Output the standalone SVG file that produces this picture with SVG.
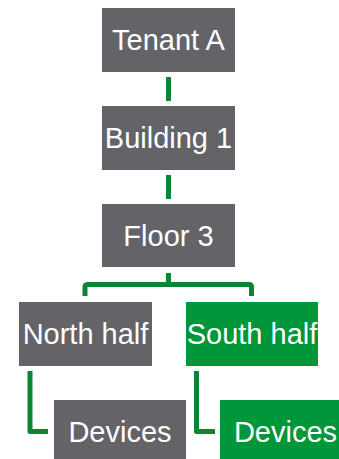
<svg xmlns="http://www.w3.org/2000/svg" width="339" height="459" viewBox="0 0 339 459">
<style>
.g{fill:#636368}
.s{fill:#00963a}
.t{font-family:"Liberation Sans",Arial,sans-serif;font-size:29px;fill:#ffffff;text-anchor:middle}
.c{fill:none;stroke:#0a8534;stroke-width:5;stroke-linejoin:round}
</style>
<rect width="339" height="459" fill="#ffffff"/>
<g id="connectors">
<line class="c" x1="168.5" y1="77" x2="168.5" y2="101"/>
<line class="c" x1="168.5" y1="175" x2="168.5" y2="199"/>
<line class="c" x1="168.5" y1="273" x2="168.5" y2="284"/>
<path class="c" d="M85 296 V287 Q85 284.5 88 284.5 H249 Q251.5 284.5 251.5 287 V296"/>
<path class="c" d="M30 371 V431.5 H48"/>
<path class="c" d="M196.5 371 V431.5 H215"/>
</g>
<g id="tenant"><rect class="g" x="102" y="8" width="133" height="64"/><text class="t" x="168.5" y="50">Tenant A</text></g>
<g id="building"><rect class="g" x="102" y="106" width="133" height="64"/><text class="t" x="168.5" y="148">Building 1</text></g>
<g id="floor"><rect class="g" x="102" y="204" width="133" height="63"/><text class="t" x="168.5" y="246">Floor 3</text></g>
<g id="north"><rect class="g" x="19" y="302" width="133" height="64"/><text class="t" x="85.5" y="344">North half</text></g>
<g id="south"><rect class="s" x="186" y="302" width="132" height="64"/><text class="t" x="252" y="344">South half</text></g>
<g id="devices-north"><rect class="g" x="54" y="400" width="132" height="64"/><text class="t" x="120" y="442">Devices</text></g>
<g id="devices-south"><rect class="s" x="220" y="400" width="132" height="64"/><text class="t" x="285.5" y="442">Devices</text></g>
</svg>
